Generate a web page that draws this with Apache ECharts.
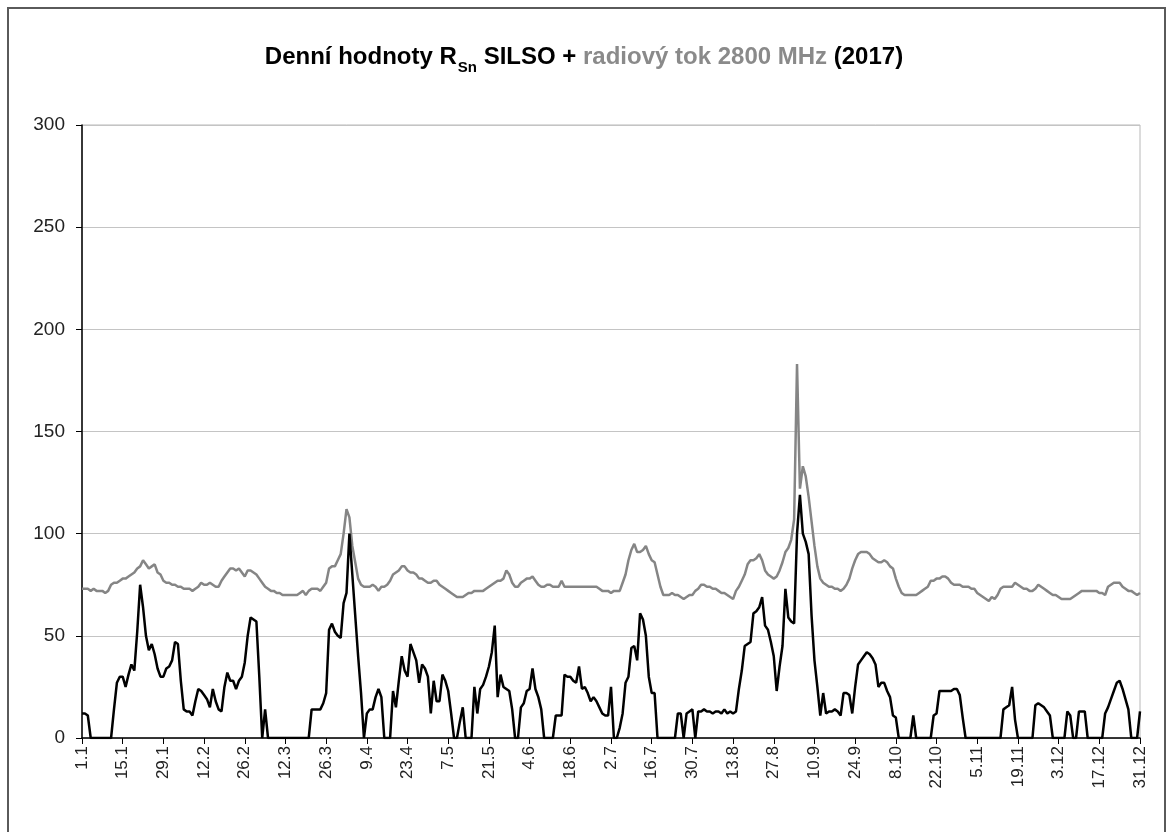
<!DOCTYPE html>
<html>
<head>
<meta charset="utf-8">
<script src="https://cdn.jsdelivr.net/npm/echarts@6/dist/echarts.min.js"></script>
<style>
html,body{margin:0;padding:0;background:#fff;}
#c{width:1168px;height:832px;}
</style>
</head>
<body>
<div id="c"></div>
<script>
// Daily sunspot number R_Sn (SILSO), 2017
const sunspots = [
  12,12,11,0,0,0,0,0,0,0,0,14,27,30,
  30,25,31,36,33,52,75,64,50,43,46,41,34,30,
  30,34,35,38,47,46,28,14,13,13,11,18,24,23,
  21,19,15,24,18,14,13,25,32,28,28,24,28,30,
  37,50,59,58,57,30,0,14,0,0,0,0,0,0,
  0,0,0,0,0,0,0,0,0,14,14,14,14,17,
  22,53,56,52,50,49,66,71,100,80,60,40,22,0,
  12,14,14,20,24,20,0,0,0,23,15,28,40,33,
  30,46,42,38,27,36,34,30,12,28,18,18,31,28,
  23,12,0,0,8,15,0,0,0,25,12,24,26,30,
  35,42,55,20,31,25,24,23,14,0,0,15,17,23,
  24,34,24,20,14,0,0,0,0,11,11,11,31,30,
  30,28,27,35,24,25,22,18,20,18,15,12,11,11,
  25,0,0,5,12,27,30,44,45,38,61,58,50,30,
  22,22,0,0,0,0,0,0,0,12,12,0,12,13,
  14,0,13,13,14,13,13,12,13,13,12,14,12,13,
  12,13,24,33,45,46,47,61,62,64,69,55,53,47,
  40,23,35,45,73,59,57,56,100,119,100,96,90,60,
  38,25,11,22,12,13,13,14,13,11,22,22,21,12,
  25,36,38,40,42,41,39,36,25,27,27,23,20,11,
  10,0,0,0,0,0,11,0,0,0,0,0,0,11,
  12,23,23,23,23,23,24,24,21,10,0,0,0,0,
  0,0,0,0,0,0,0,0,0,14,15,16,25,9,
  0,0,0,0,0,0,16,17,16,15,13,11,0,0,
  0,0,0,13,11,0,0,13,13,13,0,0,0,0,
  0,0,12,15,19,23,27,28,24,19,14,0,0,0,
  13
];
// Daily 2800 MHz (10.7 cm) radio flux, 2017
const radioFlux = [
  73,73,73,72,73,72,72,72,71,72,75,76,76,77,
  78,78,79,80,81,83,84,87,85,83,84,85,81,80,
  77,76,76,75,75,74,74,73,73,73,72,73,74,76,
  75,75,76,75,74,74,77,79,81,83,83,82,83,81,
  79,82,82,81,80,78,76,74,73,72,72,71,71,70,
  70,70,70,70,70,71,72,70,72,73,73,73,72,74,
  76,83,84,84,87,90,100,112,108,94,86,78,75,74,
  74,74,75,74,72,74,74,75,77,80,81,82,84,84,
  82,81,81,80,78,78,77,76,76,77,77,75,74,73,
  72,71,70,69,69,69,70,71,71,72,72,72,72,73,
  74,75,76,77,77,78,82,80,76,74,74,76,77,78,
  78,79,77,75,74,74,75,75,74,74,74,77,74,74,
  74,74,74,74,74,74,74,74,74,74,73,72,72,72,
  71,72,72,72,76,80,87,92,95,91,91,92,94,90,
  87,86,80,74,70,70,70,71,70,70,69,68,69,70,
  70,72,73,75,75,74,74,73,73,72,71,71,70,69,
  68,72,74,77,80,85,87,87,88,90,87,82,80,79,
  78,79,82,86,91,93,97,107,183,122,133,128,118,106,
  94,84,78,76,75,74,74,73,73,72,73,75,78,83,
  87,90,91,91,91,90,88,87,86,86,87,86,84,83,
  78,74,71,70,70,70,70,70,71,72,73,74,77,77,
  78,78,79,79,78,76,75,75,75,74,74,74,73,73,
  71,70,69,68,67,69,68,70,73,74,74,74,74,76,
  75,74,73,73,72,72,73,75,74,73,72,71,70,70,
  69,68,68,68,68,69,70,71,72,72,72,72,72,72,
  71,71,70,74,75,76,76,76,74,73,72,72,71,70,
  71
];
const monthLengths = [31,28,31,30,31,30,31,31,30,31,30,31];
const dayLabels = [];
monthLengths.forEach((n, m) => { for (let d = 1; d <= n; d++) dayLabels.push(d + '.' + (m + 1)); });
const yTicks = [0, 50, 100, 150, 200, 250, 300];

const chart = echarts.init(document.getElementById('c'), null, {renderer: 'canvas'});
chart.setOption({
  animation: false,
  backgroundColor: '#fff',
  graphic: [{
    type: 'rect', silent: true, z: -1,
    shape: {x: 8, y: 8, width: 1157, height: 860},
    style: {fill: 'none', stroke: '#5a5a5a', lineWidth: 2}
  }],
  title: {
    text: '{a|Denní hodnoty R}{s|Sn}{a| SILSO + }{g|radiový tok 2800 MHz}{a| (2017)}',
    left: 'center', top: 34,
    textStyle: {
      rich: {
        a: {fontFamily: 'Liberation Sans, Arial', fontWeight: 'bold', fontSize: 24, color: '#000', lineHeight: 30, verticalAlign: 'bottom'},
        s: {fontFamily: 'Liberation Sans, Arial', fontWeight: 'bold', fontSize: 15, color: '#000', lineHeight: 30, verticalAlign: 'bottom', padding: [0, 0, -6, 1]},
        g: {fontFamily: 'Liberation Sans, Arial', fontWeight: 'bold', fontSize: 24, color: '#8a8a8a', lineHeight: 30, verticalAlign: 'bottom'}
      }
    }
  },
  grid: {left: 82, right: 28, top: 125, bottom: 94, show: true, borderColor: '#b8b8b8', borderWidth: 1, containLabel: false},
  xAxis: {
    type: 'category',
    data: dayLabels,
    boundaryGap: false,
    axisLine: {lineStyle: {color: '#000', width: 1.5}},
    axisTick: {interval: 13, length: 6, lineStyle: {color: '#000'}},
    axisLabel: {interval: 13, rotate: 90, fontFamily: 'Liberation Sans, Arial', fontSize: 17, color: '#222', margin: 8},
    splitLine: {show: false}
  },
  yAxis: {
    type: 'value', min: yTicks[0], max: yTicks[yTicks.length - 1], interval: 50,
    axisLine: {show: true, lineStyle: {color: '#000', width: 1.5}},
    axisTick: {show: true, length: 6, lineStyle: {color: '#000'}},
    axisLabel: {fontFamily: 'Liberation Sans, Arial', fontSize: 19, color: '#222', margin: 17},
    splitLine: {lineStyle: {color: '#c4c4c4', width: 1.2}}
  },
  series: [
    {type: 'line', name: 'radiový tok 2800 MHz', data: radioFlux, showSymbol: false, symbol: 'none',
     lineStyle: {color: '#858585', width: 2.5}, z: 2},
    {type: 'line', name: 'R_Sn SILSO', data: sunspots, showSymbol: false, symbol: 'none',
     lineStyle: {color: '#000', width: 2.5}, z: 3}
  ]
});
</script>
</body>
</html>
